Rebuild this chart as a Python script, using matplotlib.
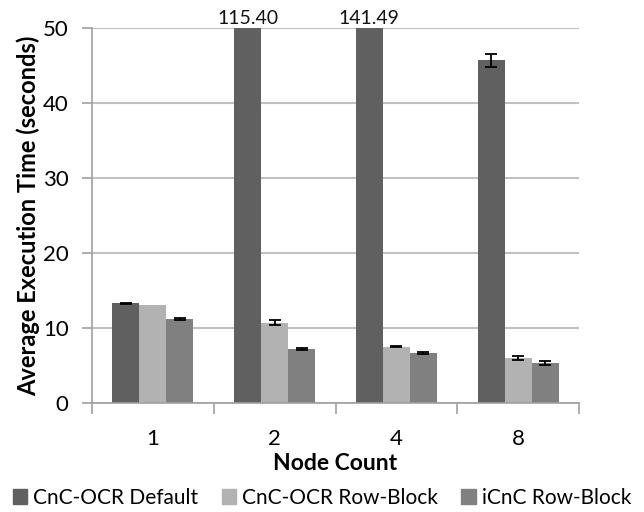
"""Average execution time per node count, grouped bar chart."""

import matplotlib.pyplot as plt
import numpy as np
from matplotlib.patches import Patch

plt.rcParams["font.family"] = ["Lato", "DejaVu Sans"]

# ── Data ──────────────────────────────────────────────────────────────────────
node_counts = ["1", "2", "4", "8"]
series      = ["CnC-OCR Default", "CnC-OCR Row-Block", "iCnC Row-Block"]

cnc_default     = [13.3, 115.40, 141.49, 45.7]
cnc_default_err = [0.1, 0.0, 0.0, 0.9]
cnc_rowblock     = [13.1, 10.7, 7.5, 6.0]
cnc_rowblock_err = [0.0, 0.35, 0.1, 0.25]
icnc_rowblock     = [11.2, 7.2, 6.7, 5.3]
icnc_rowblock_err = [0.1, 0.15, 0.15, 0.3]

# values printed above the clipped bars
clipped_labels = {1: "115.40", 2: "141.49"}

colors = ["#606060", "#b2b2b2", "#808080"]
Y_MAX = 50

# ── Plot ──────────────────────────────────────────────────────────────────────
fig = plt.figure(figsize=(6.44, 5.12), dpi=100)
ax = fig.add_axes([0.143, 0.213, 0.756, 0.732])

x = np.arange(len(node_counts))
width = 0.222
values = [cnc_default, cnc_rowblock, icnc_rowblock]
errors = [cnc_default_err, cnc_rowblock_err, icnc_rowblock_err]

for i, (vals, errs, col) in enumerate(zip(values, errors, colors)):
    pos = x + (i - 1) * width
    ax.bar(pos, vals, width, color=col, zorder=2)
    # only draw error bars that fall inside the visible range
    vis = [j for j in range(len(vals)) if vals[j] < Y_MAX and errs[j] > 0]
    ax.errorbar(pos[vis], np.array(vals)[vis], yerr=np.array(errs)[vis],
                fmt="none", ecolor="black", elinewidth=1.3, capsize=4,
                capthick=1.3, zorder=3)

for j, label in clipped_labels.items():
    ax.text(x[j] - width, Y_MAX + 0.2, label, ha="center", va="bottom",
            fontsize=14, color="#111111", clip_on=False)

ax.set_ylim(0, Y_MAX)
ax.set_xlim(-0.5, len(node_counts) - 0.5)
ax.set_yticks(range(0, 51, 10))
ax.yaxis.grid(True, color="#c0c0c0", linewidth=1.5, zorder=0)
ax.set_axisbelow(True)

ax.set_xticks(x)
ax.set_xticklabels(node_counts)
ax.set_xticks(np.arange(-0.5, len(node_counts)), minor=True)
ax.tick_params(axis="x", which="major", length=0, labelsize=16, pad=19)
ax.tick_params(axis="x", which="minor", length=8, color="#a0a0a0", width=1.2)
ax.tick_params(axis="y", length=7, color="#a0a0a0", width=1.2, labelsize=16, pad=10)

for side in ["top", "right"]:
    ax.spines[side].set_visible(False)
for side in ["left", "bottom"]:
    ax.spines[side].set_color("#a0a0a0")
    ax.spines[side].set_linewidth(1.2)

ax.set_xlabel("Node Count", fontsize=16.5, fontweight="bold", labelpad=3)
ax.set_ylabel("Average Execution Time (seconds)", fontsize=17,
              fontweight="bold", labelpad=2)

handles = [Patch(color=c, label=s) for s, c in zip(series, colors)]
fig.legend(handles=handles, loc="center", bbox_to_anchor=(0.5, 0.028), ncol=3,
           frameon=False, fontsize=15, handlelength=0.7, handleheight=0.7,
           handletextpad=0.3, columnspacing=1.1)

plt.savefig("out.png", dpi=100)
plt.close()
